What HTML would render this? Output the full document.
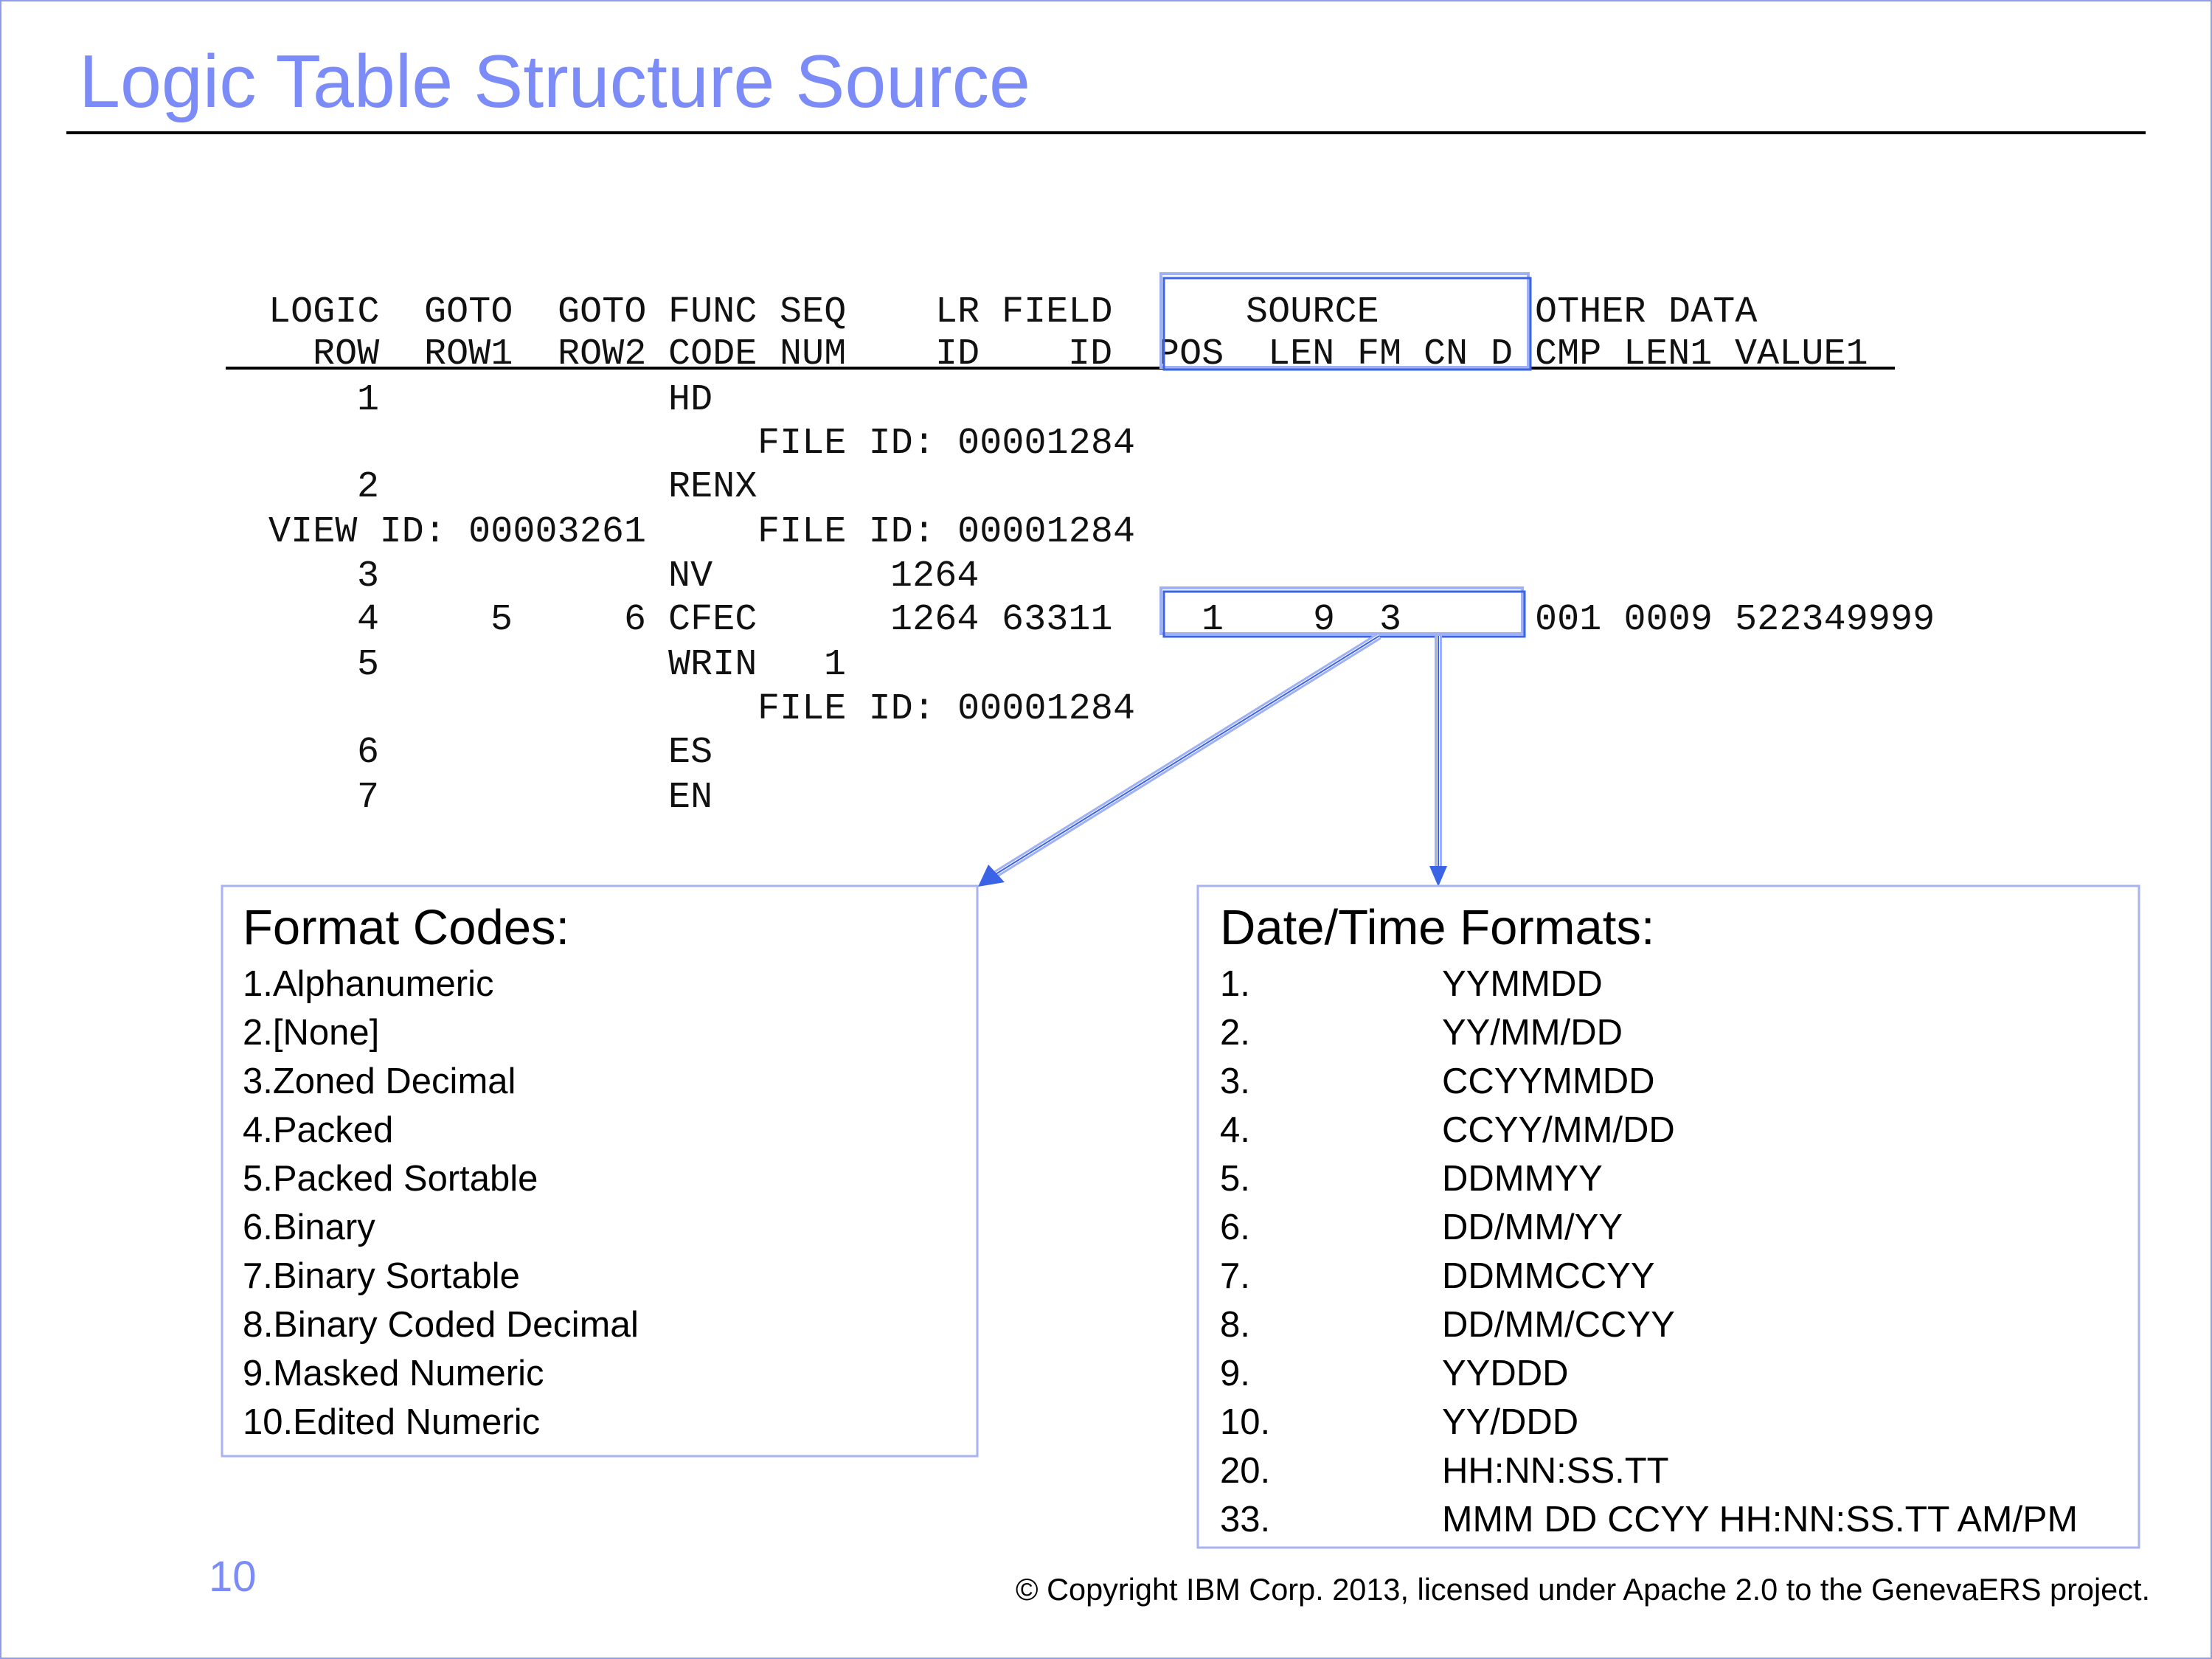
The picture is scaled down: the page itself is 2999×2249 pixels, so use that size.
<!DOCTYPE html>
<html><head><meta charset="utf-8"><style>
html,body{margin:0;padding:0;background:#fff}
svg{display:block}
.m{font-family:"Liberation Mono",monospace;font-size:50px;fill:#111;letter-spacing:0.12px}
.s{font-family:"Liberation Sans",Arial,sans-serif;fill:#000}
</style></head><body>
<svg width="2999" height="2249" viewBox="0 0 2999 2249" xmlns="http://www.w3.org/2000/svg">
<rect x="1" y="1" width="2997" height="2247" fill="#fff" stroke="#8f9cf0" stroke-width="2"/>
<text x="107" y="145" class="s" font-size="101" style="fill:#7b8cf8" textLength="1290" lengthAdjust="spacingAndGlyphs">Logic Table Structure Source</text>
<rect x="90" y="178" width="2819" height="4" fill="#000"/>

<g class="m">
<text x="364" y="436">LOGIC</text>
<text x="575" y="436">GOTO</text>
<text x="756" y="436">GOTO</text>
<text x="906" y="436">FUNC</text>
<text x="1057" y="436">SEQ</text>
<text x="1268" y="436">LR</text>
<text x="1358" y="436">FIELD</text>
<text x="1689" y="436">SOURCE</text>
<text x="2081" y="436">OTHER</text>
<text x="2262" y="436">DATA</text>
<text x="424" y="493">ROW</text>
<text x="575" y="493">ROW1</text>
<text x="756" y="493">ROW2</text>
<text x="906" y="493">CODE</text>
<text x="1057" y="493">NUM</text>
<text x="1268" y="493">ID</text>
<text x="1448" y="493">ID</text>
<text x="1569" y="493">POS</text>
<text x="1719" y="493">LEN</text>
<text x="1840" y="493">FM</text>
<text x="1930" y="493">CN</text>
<text x="2021" y="493">D</text>
<text x="2081" y="493">CMP</text>
<text x="2201" y="493">LEN1</text>
<text x="2352" y="493">VALUE1</text>
<text x="484" y="555">1</text><text x="906" y="555">HD</text>
<text x="1027" y="614">FILE ID: 00001284</text>
<text x="484" y="673">2</text><text x="906" y="673">RENX</text>
<text x="364" y="734">VIEW ID: 00003261</text><text x="1027" y="734">FILE ID: 00001284</text>
<text x="484" y="794">3</text><text x="906" y="794">NV</text><text x="1207" y="794">1264</text>
<text x="484" y="853">4</text><text x="665" y="853">5</text><text x="846" y="853">6</text><text x="906" y="853">CFEC</text><text x="1207" y="853">1264</text><text x="1358" y="853">63311</text>
<text x="1629" y="853">1</text><text x="1780" y="853">9</text><text x="1870" y="853">3</text>
<text x="2081" y="853">001 0009 522349999</text>
<text x="484" y="914">5</text><text x="906" y="914">WRIN</text><text x="1117" y="914">1</text>
<text x="1027" y="974">FILE ID: 00001284</text>
<text x="484" y="1033">6</text><text x="906" y="1033">ES</text>
<text x="484" y="1094">7</text><text x="906" y="1094">EN</text>
</g>
<rect x="306" y="497" width="2263" height="4" fill="#000"/>

<g fill="none">
<rect x="1574" y="371" width="498" height="127" stroke="#9fb0f5" stroke-width="4"/>
<rect x="1578" y="377" width="497" height="124" stroke="#3a63e6" stroke-width="3"/>
<rect x="1574" y="797" width="490" height="62" stroke="#9fb0f5" stroke-width="4"/>
<rect x="1578" y="802" width="489" height="61" stroke="#3a63e6" stroke-width="3"/>
</g>
<g>
<line x1="1870" y1="862" x2="1342" y2="1190" stroke="#9fb0f5" stroke-width="10"/>
<line x1="1870" y1="862" x2="1342" y2="1190" stroke="#ffffff" stroke-width="4"/>
<line x1="1870" y1="862" x2="1342" y2="1190" stroke="#3a63e6" stroke-width="2"/>
<polygon points="1326,1202 1340,1172 1362,1196" fill="#3a63e6"/>
<line x1="1950" y1="862" x2="1950" y2="1180" stroke="#9fb0f5" stroke-width="10"/>
<line x1="1950" y1="862" x2="1950" y2="1180" stroke="#ffffff" stroke-width="4"/>
<line x1="1950" y1="862" x2="1950" y2="1180" stroke="#3a63e6" stroke-width="2"/>
<polygon points="1938,1174 1962,1174 1950,1202" fill="#3a63e6"/>
</g>

<rect x="301" y="1201" width="1024" height="773" fill="none" stroke="#a8b3f0" stroke-width="3"/>
<g class="s" font-size="49">
<text x="329" y="1280" font-size="67">Format Codes:</text>
<text x="329" y="1350">1.Alphanumeric</text>
<text x="329" y="1416">2.[None]</text>
<text x="329" y="1482">3.Zoned Decimal</text>
<text x="329" y="1548">4.Packed</text>
<text x="329" y="1614">5.Packed Sortable</text>
<text x="329" y="1680">6.Binary</text>
<text x="329" y="1746">7.Binary Sortable</text>
<text x="329" y="1812" textLength="537" lengthAdjust="spacingAndGlyphs">8.Binary Coded Decimal</text>
<text x="329" y="1878">9.Masked Numeric</text>
<text x="329" y="1944">10.Edited Numeric</text>
</g>

<rect x="1624" y="1201" width="1276" height="897" fill="none" stroke="#a8b3f0" stroke-width="3"/>
<g class="s" font-size="49">
<text x="1654" y="1280" font-size="67">Date/Time Formats:</text>
<text x="1654" y="1350">1.</text><text x="1955" y="1350">YYMMDD</text>
<text x="1654" y="1416">2.</text><text x="1955" y="1416">YY/MM/DD</text>
<text x="1654" y="1482">3.</text><text x="1955" y="1482">CCYYMMDD</text>
<text x="1654" y="1548">4.</text><text x="1955" y="1548">CCYY/MM/DD</text>
<text x="1654" y="1614">5.</text><text x="1955" y="1614">DDMMYY</text>
<text x="1654" y="1680">6.</text><text x="1955" y="1680">DD/MM/YY</text>
<text x="1654" y="1746">7.</text><text x="1955" y="1746">DDMMCCYY</text>
<text x="1654" y="1812">8.</text><text x="1955" y="1812">DD/MM/CCYY</text>
<text x="1654" y="1878">9.</text><text x="1955" y="1878">YYDDD</text>
<text x="1654" y="1944">10.</text><text x="1955" y="1944">YY/DDD</text>
<text x="1654" y="2010">20.</text><text x="1955" y="2010">HH:NN:SS.TT</text>
<text x="1654" y="2076">33.</text><text x="1955" y="2076" textLength="862" lengthAdjust="spacingAndGlyphs">MMM DD CCYY HH:NN:SS.TT AM/PM</text>
</g>

<text x="283" y="2157" class="s" font-size="58" style="fill:#7b8cf8">10</text>
<text x="1377" y="2169" class="s" font-size="42" textLength="1538" lengthAdjust="spacingAndGlyphs">© Copyright IBM Corp. 2013, licensed under Apache 2.0 to the GenevaERS project.</text>
</svg>
</body></html>
